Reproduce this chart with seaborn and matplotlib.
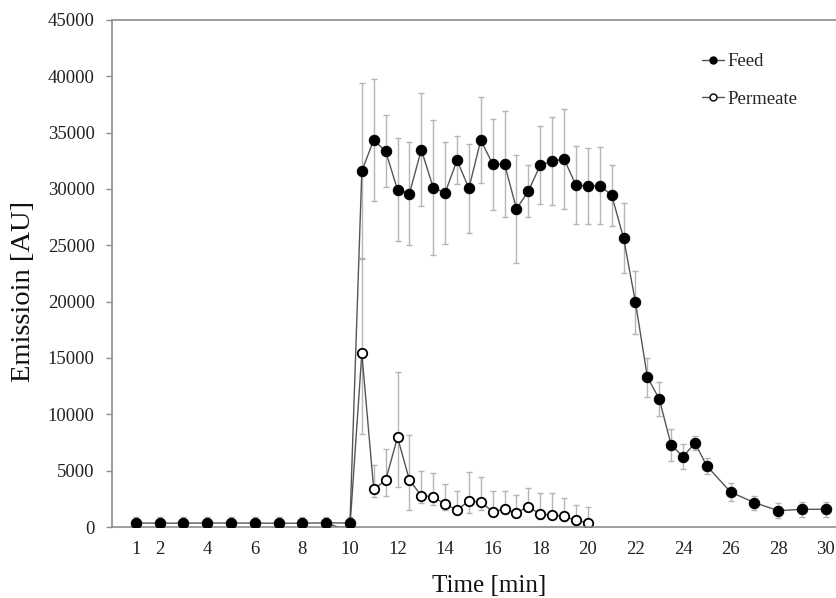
import seaborn as sns
import matplotlib.pyplot as plt
from matplotlib.lines import Line2D

# time points (min)
feed_time = [1, 2, 3, 4, 5, 6, 7, 8, 9, 10,
             10.5, 11, 11.5, 12, 12.5, 13, 13.5, 14, 14.5, 15,
             15.5, 16, 16.5, 17, 17.5, 18, 18.5, 19, 19.5, 20,
             20.5, 21, 21.5, 22, 22.5, 23, 23.5, 24, 24.5, 25,
             26, 27, 28, 29, 30]
feed_val = [350, 340, 340, 360, 350, 350, 330, 340, 370, 350,
            31600, 34350, 33350, 29940, 29590, 33490, 30120, 29650, 32550, 30060,
            34350, 32190, 32190, 28230, 29820, 32130, 32460, 32660, 30330, 30270,
            30300, 29450, 25650, 19940, 13310, 11360, 7280, 6240, 7460, 5410,
            3100, 2160, 1450, 1570, 1570]
feed_err = [550, 550, 550, 550, 550, 550, 550, 550, 550, 550,
            7800, 5400, 3200, 4550, 4600, 5000, 6000, 4500, 2150, 3950,
            3800, 4050, 4700, 4800, 2330, 3500, 3900, 4430, 3480, 3400,
            3400, 2700, 3100, 2800, 1730, 1500, 1400, 1100, 620, 690,
            830, 630, 640, 650, 650]

# permeate: first three points only carry the line (no marker)
perm_time = [9, 9.5, 10,
             10.5, 11, 11.5, 12, 12.5, 13, 13.5, 14, 14.5, 15,
             15.5, 16, 16.5, 17, 17.5, 18, 18.5, 19, 19.5, 20]
perm_val = [350, 0, 0,
            15410, 3340, 4140, 7960, 4170, 2780, 2690, 2010, 1510, 2310,
            2220, 1360, 1570, 1270, 1800, 1130, 1090, 950, 590, 380]
perm_err_up = [0, 0, 0,
               8470, 2190, 2810, 5800, 3970, 2160, 2100, 1810, 1710, 2540,
               2220, 1810, 1600, 1540, 1690, 1890, 1930, 1650, 1360, 1420]
perm_err_low = [0, 0, 0,
                7180, 650, 1360, 4440, 2660, 680, 740, 500, 400, 1040,
                740, 400, 400, 400, 400, 400, 400, 400, 400, 380]

x_ticks = [1, 2, 4, 6, 8, 10, 12, 14, 16, 18, 20, 22, 24, 26, 28, 30]
y_ticks = [0, 5000, 10000, 15000, 20000, 25000, 30000, 35000, 40000, 45000]

sns.set_style("white")
plt.rcParams['font.family'] = ['Liberation Serif', 'DejaVu Serif']

fig = plt.figure(figsize=(8.37, 5.98), dpi=100)
ax = fig.add_axes([112 / 837, 71 / 598, 725 / 837, 507 / 598])

line_col = '#555555'
err_col = '#b5b5b5'

# error bars
ax.errorbar(feed_time, feed_val, yerr=feed_err, fmt='none', ecolor=err_col,
            elinewidth=1.0, capsize=2.2, capthick=1.0, zorder=1)
ax.errorbar(perm_time[3:], perm_val[3:], yerr=[perm_err_low[3:], perm_err_up[3:]],
            fmt='none', ecolor=err_col, elinewidth=1.0, capsize=2.2, capthick=1.0, zorder=1)

# permeate line + open markers
sns.lineplot(x=perm_time, y=perm_val, ax=ax, color=line_col, linewidth=1.0,
             marker='o', markevery=slice(3, None), markersize=6.8,
             markerfacecolor='white', markeredgecolor='black', markeredgewidth=1.3,
             errorbar=None, sort=False, zorder=2)
# feed line + filled markers
sns.lineplot(x=feed_time, y=feed_val, ax=ax, color=line_col, linewidth=1.0,
             marker='o', markersize=7.5, markerfacecolor='black',
             markeredgecolor='black', errorbar=None, sort=False, zorder=3)

ax.set_xlim(0, 30.47)
ax.set_ylim(0, 45000)
ax.set_xticks(x_ticks)
ax.set_yticks(y_ticks)
ax.tick_params(axis='x', length=0, pad=10, labelsize=13.5, labelcolor='#222222')
ax.tick_params(axis='y', direction='out', length=4.5, width=1, color='#8c8c8c',
               pad=8, labelsize=13.5, labelcolor='#222222', left=True)

for side in ['left', 'bottom', 'top']:
    ax.spines[side].set_color('#8c8c8c')
    ax.spines[side].set_linewidth(1.2)
ax.spines['right'].set_visible(False)

ax.set_xlabel('Time [min]', fontsize=18, color='#111111')
ax.set_ylabel('Emissioin [AU]', fontsize=20.5, color='#111111')
ax.xaxis.set_label_coords(0.52, -0.095)
ax.yaxis.set_label_coords(-0.105, 0.4645)

handles = [
    Line2D([], [], color=line_col, linewidth=1.0, marker='o', markersize=5,
           markerfacecolor='black', markeredgecolor='black'),
    Line2D([], [], color=line_col, linewidth=1.0, marker='o', markersize=5,
           markerfacecolor='white', markeredgecolor='black', markeredgewidth=1.0),
]
ax.legend(handles, ['Feed', 'Permeate'], loc='upper left', bbox_to_anchor=(0.79, 0.968),
          frameon=False, fontsize=13.5, handlelength=1.2, handletextpad=0.2,
          labelspacing=1.1)

fig.savefig('out.png', dpi=100)
